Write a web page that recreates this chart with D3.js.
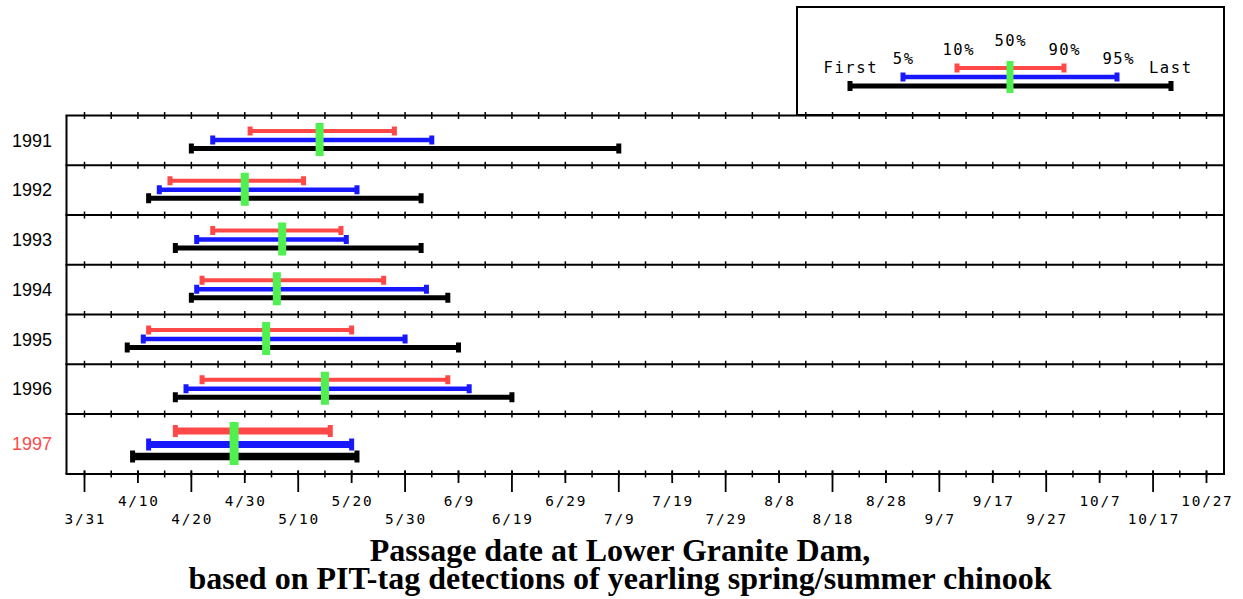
<!DOCTYPE html>
<html>
<head>
<meta charset="utf-8">
<script src="https://cdn.jsdelivr.net/npm/d3@7"></script>
<style>
  html, body { margin: 0; padding: 0; background: #ffffff; }
  svg { display: block; }
</style>
</head>
<body>
<svg id="chart" width="1243" height="599"></svg>
<script>
// ---------------- DATA ----------------
const years = ["1991", "1992", "1993", "1994", "1995", "1996", "1997"];
const firstDates = ["4/20", "4/12", "4/17", "4/20", "4/8",  "4/17", "4/9"];
const p5Dates    = ["4/24", "4/14", "4/21", "4/21", "4/11", "4/19", "4/12"];
const p10Dates   = ["5/1",  "4/16", "4/24", "4/22", "4/12", "4/22", "4/17"];
const p50Dates   = ["5/14", "4/30", "5/7",  "5/6",  "5/4",  "5/15", "4/28"];
const p90Dates   = ["5/28", "5/11", "5/18", "5/26", "5/20", "6/7",  "5/16"];
const p95Dates   = ["6/4",  "5/21", "5/19", "6/3",  "5/30", "6/11", "5/20"];
const lastDates  = ["7/9",  "6/2",  "6/2",  "6/7",  "6/9",  "6/19", "5/21"];
const highlightYear = "1997";

const tickLabels = ["3/31","4/10","4/20","4/30","5/10","5/20","5/30","6/9","6/19","6/29",
                    "7/9","7/19","7/29","8/8","8/18","8/28","9/7","9/17","9/27","10/7",
                    "10/17","10/27"];
const legendLabels = ["First", "5%", "10%", "50%", "90%", "95%", "Last"];
const titleLines = ["Passage date at Lower Granite Dam,",
                    "based on PIT-tag detections of yearling spring/summer chinook"];

// ---------------- SETUP ----------------
const parse = s => d3.timeParse("%m/%d/%Y")(s + "/2001");
const RED = "#ff4848", BLUE = "#1818ff", GREEN = "#50f050", BLACK = "#000000";
const svg = d3.select("#chart");

const frameLeft = 66.5, frameRight = 1224;
const frameTop = 115.5, lastSep = 414, axisY = 474;

const x = d3.scaleTime()
  .domain([parse(tickLabels[0]), parse(tickLabels[tickLabels.length - 1])])
  .range([84.5, 1206.5]);

const rows = years.map((y, i) => ({
  year: y,
  first: parse(firstDates[i]), p5: parse(p5Dates[i]), p10: parse(p10Dates[i]),
  p50: parse(p50Dates[i]), p90: parse(p90Dates[i]), p95: parse(p95Dates[i]),
  last: parse(lastDates[i]),
  hl: y === highlightYear
}));

const normalYears = years.filter(y => y !== highlightYear);
const yBand = d3.scaleBand().domain(normalYears).range([frameTop, lastSep]).padding(0);
function rowTop(r) { return r.hl ? lastSep : yBand(r.year); }
function rowBottom(r) { return r.hl ? axisY : yBand(r.year) + yBand.bandwidth(); }

// ---------------- FRAME ----------------
const g = svg.append("g");
g.append("line").attr("x1", frameLeft).attr("x2", frameLeft)
  .attr("y1", frameTop).attr("y2", axisY).attr("stroke", "#000").attr("stroke-width", 2);
g.append("line").attr("x1", frameRight).attr("x2", frameRight)
  .attr("y1", frameTop - 1).attr("y2", axisY + 1).attr("stroke", "#000").attr("stroke-width", 2);

const fiveDayTicks = d3.timeDay.range(x.domain()[0], d3.timeDay.offset(x.domain()[1], 1), 5);
const sepYs = normalYears.map(y => yBand(y)).concat([lastSep]);
sepYs.forEach(sy => {
  g.append("line").attr("x1", frameLeft - 1).attr("x2", frameRight + 1)
    .attr("y1", sy).attr("y2", sy).attr("stroke", "#000").attr("stroke-width", 2);
  g.selectAll(null).data(fiveDayTicks).join("line")
    .attr("x1", d => x(d)).attr("x2", d => x(d))
    .attr("y1", sy - 3.5).attr("y2", sy + 3.5)
    .attr("stroke", "#000").attr("stroke-width", 1.5);
});

g.append("line").attr("x1", frameLeft - 1).attr("x2", frameRight + 1)
  .attr("y1", axisY).attr("y2", axisY).attr("stroke", "#000").attr("stroke-width", 2);
g.selectAll(null).data(fiveDayTicks).join("line")
  .attr("x1", d => x(d)).attr("x2", d => x(d))
  .attr("y1", axisY - 3.5).attr("y2", axisY + 3.5)
  .attr("stroke", "#000").attr("stroke-width", 1.5);

const labTicks = tickLabels.map((t, i) => ({ t, d: parse(t), low: i % 2 === 0 }));
g.selectAll(null).data(labTicks).join("line")
  .attr("x1", d => x(d.d)).attr("x2", d => x(d.d))
  .attr("y1", axisY - 3.5).attr("y2", d => d.low ? 492 : 483)
  .attr("stroke", "#000").attr("stroke-width", 1.8);
g.selectAll(null).data(labTicks).join("text")
  .attr("x", d => x(d.d) + 0.9).attr("y", d => d.low ? 524 : 506)
  .attr("text-anchor", "middle")
  .attr("font-family", "DejaVu Sans Mono, monospace")
  .attr("font-size", 14.4).attr("letter-spacing", 1.8)
  .attr("fill", "#000")
  .text(d => d.t);

// ---------------- ROWS ----------------
function styleFor(r) {
  const t = rowTop(r);
  if (r.hl) {
    return { red: t + 17, blue: t + 30.5, black: t + 42.5, wR: 7, wB: 7, wK: 7.5,
             capH: 12, capK: 12, capW: 5, gTop: t + 8, gBot: t + 51, gW: 9 };
  }
  return { red: t + 15.5, blue: t + 24.5, black: t + 33, wR: 4, wB: 4.5, wK: 5,
           capH: 9, capK: 10, capW: 5, gTop: t + 7.5, gBot: t + 40.5, gW: 8 };
}

function rangeBar(parent, x1, x2, y, w, capH, capW, color) {
  parent.append("line").attr("x1", x1).attr("x2", x2).attr("y1", y).attr("y2", y)
    .attr("stroke", color).attr("stroke-width", w);
  [x1, x2].forEach(cx => {
    parent.append("rect").attr("x", cx - capW / 2).attr("y", y - capH / 2)
      .attr("width", capW).attr("height", capH).attr("fill", color);
  });
}

const rowG = svg.append("g");
rows.forEach(r => {
  const s = styleFor(r);
  const rg = rowG.append("g");
  rangeBar(rg, x(r.p10), x(r.p90), s.red, s.wR, s.capH, s.capW, RED);
  rangeBar(rg, x(r.p5), x(r.p95), s.blue, s.wB, s.capH, s.capW, BLUE);
  rangeBar(rg, x(r.first), x(r.last), s.black, s.wK, s.capK, s.capW, BLACK);
  rg.append("rect").attr("x", x(r.p50) - s.gW / 2).attr("y", s.gTop)
    .attr("width", s.gW).attr("height", s.gBot - s.gTop).attr("fill", GREEN);
  rg.append("text")
    .attr("x", 52).attr("y", (rowTop(r) + rowBottom(r)) / 2)
    .attr("dy", "0.35em").attr("text-anchor", "end")
    .attr("font-family", "Liberation Sans, Arial, sans-serif")
    .attr("font-size", 18)
    .attr("fill", r.hl ? RED : "#000")
    .text(r.year);
});

// ---------------- LEGEND ----------------
const lg = svg.append("g");
lg.append("rect").attr("x", 797).attr("y", 7).attr("width", 427).attr("height", 108)
  .attr("fill", "none").attr("stroke", "#000").attr("stroke-width", 2);
rangeBar(lg, 957, 1064, 68, 4, 9, 5, RED);
rangeBar(lg, 903, 1117, 77, 4.5, 9, 5, BLUE);
rangeBar(lg, 850, 1171, 86, 5, 10, 5, BLACK);
lg.append("rect").attr("x", 1006.5).attr("y", 61).attr("width", 7).attr("height", 32).attr("fill", GREEN);
const legPos = [[850, 73], [903, 64], [958, 55], [1010, 46], [1064, 55], [1118, 64], [1170, 73]];
lg.selectAll(null).data(legendLabels).join("text")
  .attr("x", (d, i) => legPos[i][0] + 0.8).attr("y", (d, i) => legPos[i][1])
  .attr("text-anchor", "middle")
  .attr("font-family", "DejaVu Sans Mono, monospace")
  .attr("font-size", 15.5).attr("letter-spacing", 1.6)
  .attr("fill", "#000")
  .text(d => d);

// ---------------- TITLE ----------------
svg.selectAll(null).data(titleLines).join("text")
  .attr("x", 620).attr("y", (d, i) => 561 + i * 28)
  .attr("text-anchor", "middle")
  .attr("font-family", "Liberation Serif, Times New Roman, serif")
  .attr("font-weight", "bold").attr("font-size", 32)
  .attr("fill", "#000")
  .text(d => d);
</script>
</body>
</html>
